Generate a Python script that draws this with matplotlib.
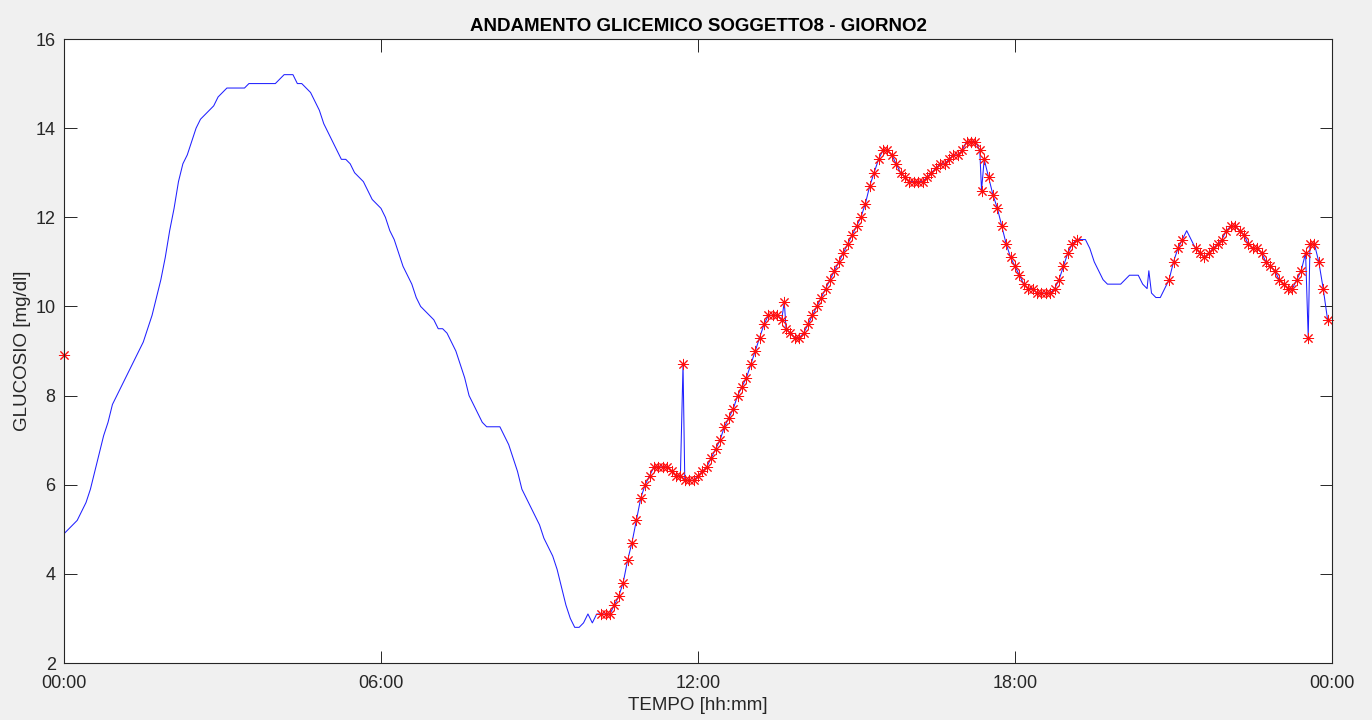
import numpy as np
import matplotlib
matplotlib.use("Agg")
import matplotlib.pyplot as plt
from matplotlib.ticker import FuncFormatter

plt.rcParams['font.family'] = ['Liberation Sans', 'DejaVu Sans']

# CGM readings, one every 5 minutes starting at 00:00
glucose = [
    4.9, 5.0, 5.1, 5.2, 5.4, 5.6, 5.9, 6.3, 6.7, 7.1, 7.4, 7.8,            # 00
    8.0, 8.2, 8.4, 8.6, 8.8, 9.0, 9.2, 9.5, 9.8, 10.2, 10.6, 11.1,         # 01
    11.7, 12.2, 12.8, 13.2, 13.4, 13.7, 14.0, 14.2, 14.3, 14.4, 14.5, 14.7,  # 02
    14.8, 14.9, 14.9, 14.9, 14.9, 14.9, 15.0, 15.0, 15.0, 15.0, 15.0, 15.0,  # 03
    15.0, 15.1, 15.2, 15.2, 15.2, 15.0, 15.0, 14.9, 14.8, 14.6, 14.4, 14.1,  # 04
    13.9, 13.7, 13.5, 13.3, 13.3, 13.2, 13.0, 12.9, 12.8, 12.6, 12.4, 12.3,  # 05
    12.2, 12.0, 11.7, 11.5, 11.2, 10.9, 10.7, 10.5, 10.2, 10.0, 9.9, 9.8,  # 06
    9.7, 9.5, 9.5, 9.4, 9.2, 9.0, 8.7, 8.4, 8.0, 7.8, 7.6, 7.4,            # 07
    7.3, 7.3, 7.3, 7.3, 7.1, 6.9, 6.6, 6.3, 5.9, 5.7, 5.5, 5.3,            # 08
    5.1, 4.8, 4.6, 4.4, 4.1, 3.7, 3.3, 3.0, 2.8, 2.8, 2.9, 3.1,            # 09
    2.9, 3.1, 3.1, 3.1, 3.1, 3.3, 3.5, 3.8, 4.3, 4.7, 5.2, 5.7,            # 10
    6.0, 6.2, 6.4, 6.4, 6.4, 6.4, 6.3, 6.2, 6.2, 6.1, 6.1, 6.1,            # 11
    6.2, 6.3, 6.4, 6.6, 6.8, 7.0, 7.3, 7.5, 7.7, 8.0, 8.2, 8.4,            # 12
    8.7, 9.0, 9.3, 9.6, 9.8, 9.8, 9.8, 9.7, 9.5, 9.4, 9.3, 9.3,            # 13
    9.4, 9.6, 9.8, 10.0, 10.2, 10.4, 10.6, 10.8, 11.0, 11.2, 11.4, 11.6,   # 14
    11.8, 12.0, 12.3, 12.7, 13.0, 13.3, 13.5, 13.5, 13.4, 13.2, 13.0, 12.9,  # 15
    12.8, 12.8, 12.8, 12.8, 12.9, 13.0, 13.1, 13.2, 13.2, 13.3, 13.4, 13.4,  # 16
    13.5, 13.7, 13.7, 13.7, 13.5, 13.3, 12.9, 12.5, 12.2, 11.8, 11.4, 11.1,  # 17
    10.9, 10.7, 10.5, 10.4, 10.4, 10.3, 10.3, 10.3, 10.3, 10.4, 10.6, 10.9,  # 18
    11.2, 11.4, 11.5, 11.5, 11.5, 11.3, 11.0, 10.8, 10.6, 10.5, 10.5, 10.5,  # 19
    10.5, 10.6, 10.7, 10.7, 10.7, 10.5, 10.4, 10.3, 10.2, 10.2, 10.4, 10.6,  # 20
    11.0, 11.3, 11.5, 11.7, 11.5, 11.3, 11.2, 11.1, 11.2, 11.3, 11.4, 11.5,  # 21
    11.7, 11.8, 11.8, 11.7, 11.6, 11.4, 11.3, 11.3, 11.2, 11.0, 10.9, 10.8,  # 22
    10.6, 10.5, 10.4, 10.4, 10.6, 10.8, 11.2, 11.4, 11.4, 11.0, 10.4, 9.7,  # 23
]

# readings logged between the regular samples
extra_times = ["11:43", "13:38", "17:22", "20:32", "23:33"]
extra_values = [8.7, 10.1, 12.6, 10.8, 9.3]

# periods whose readings are marked with red stars
marked_windows = [("10:10", "19:10"), ("20:55", "21:10"), ("21:25", "23:55")]
lone_mark_time = "00:00"
lone_mark_value = 8.9


def to_min(s):
    h, m = s.split(":")
    return int(h) * 60 + int(m)


t = np.concatenate([np.arange(len(glucose)) * 5, [to_min(s) for s in extra_times]])
g = np.concatenate([glucose, extra_values])
order = np.argsort(t, kind="stable")
t, g = t[order], g[order]

marked = np.zeros(len(t), dtype=bool)
for a, b in marked_windows:
    marked |= (t >= to_min(a)) & (t <= to_min(b))

mark_t = np.append(t[marked], to_min(lone_mark_time))
mark_g = np.append(g[marked], lone_mark_value)

W, H = 1372, 720
fig = plt.figure(figsize=(W / 100, H / 100), dpi=100, facecolor="#f0f0f0")
ax = fig.add_axes([64 / W, 57 / H, 1268 / W, 624 / H])

ax.plot(t, g, color="#2020ff", lw=0.75)
ax.plot(mark_t, mark_g, ls="none", marker=(8, 2, 0), ms=8,
        mec="#ff1010", mew=0.7, clip_on=False)

ax.set_xlim(0, 1440)
ax.set_ylim(2, 16)
ax.set_xticks([0, 360, 720, 1080, 1440])
ax.set_yticks(range(2, 17, 2))
ax.xaxis.set_major_formatter(FuncFormatter(
    lambda v, p: "%02d:%02d" % ((int(v) // 60) % 24, int(v) % 60)))

ax.tick_params(direction="in", length=9, width=0.7, colors="#262626",
               labelsize=13, top=True, right=True)
ax.tick_params(axis="x", pad=9)
ax.tick_params(axis="y", pad=6)
for s in ax.spines.values():
    s.set_color("#262626")
    s.set_linewidth(0.8)

ax.set_title("ANDAMENTO GLICEMICO SOGGETTO8 - GIORNO2", fontsize=13.5,
             fontweight="bold", pad=6)
ax.set_xlabel("TEMPO [hh:mm]", fontsize=13.5, color="#262626")
ax.set_ylabel("GLUCOSIO [mg/dl]", fontsize=13.5, color="#262626")
ax.xaxis.set_label_coords(0.5, -0.055)
ax.yaxis.set_label_coords(-0.026, 0.5)

fig.savefig("out.png", dpi=100, facecolor=fig.get_facecolor())
